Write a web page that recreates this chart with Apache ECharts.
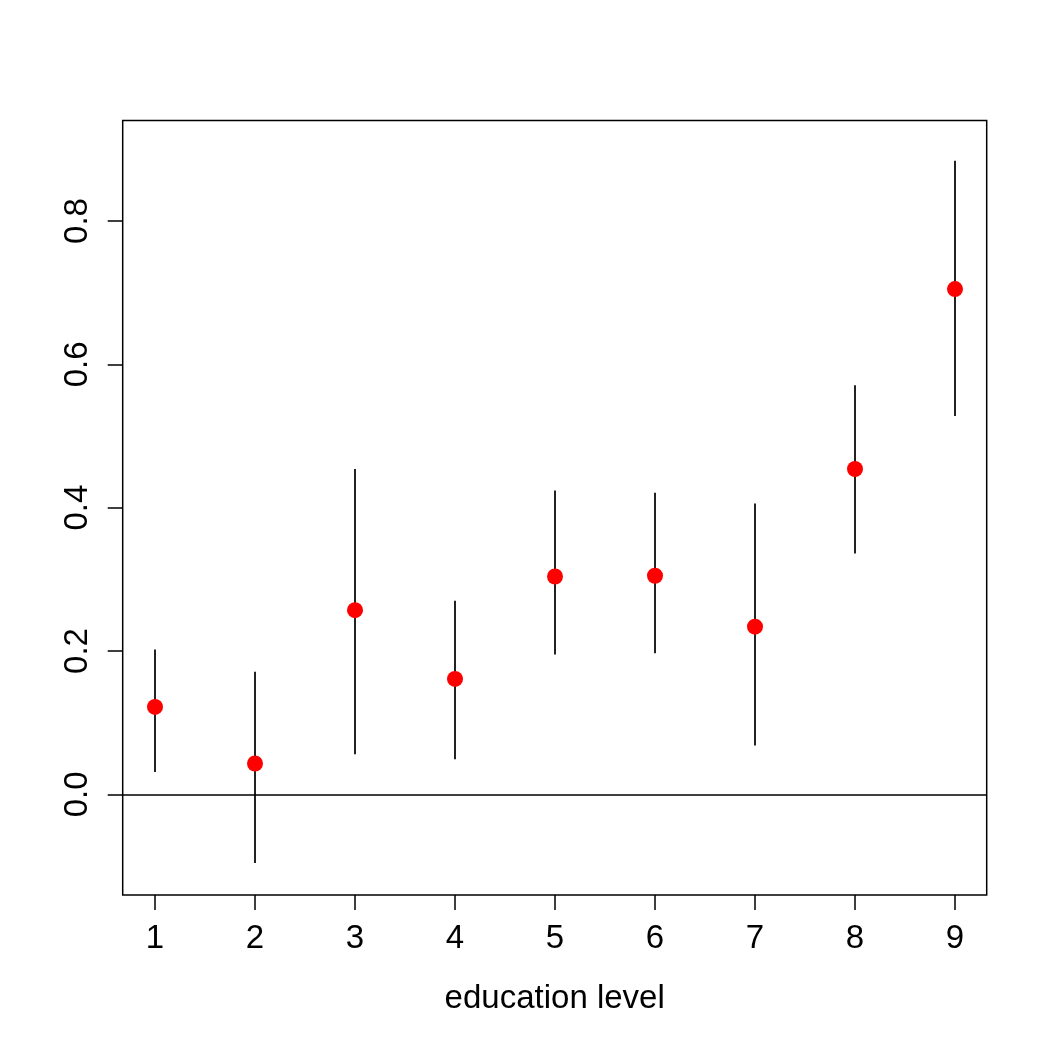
<!DOCTYPE html>
<html>
<head>
<meta charset="utf-8">
<title>education level</title>
<script src="https://cdn.jsdelivr.net/npm/echarts@6/dist/echarts.min.js"></script>
<style>
  html, body { margin: 0; padding: 0; background: #fff; }
  #chart { width: 1048px; height: 1048px; }
</style>
</head>
<body>
<div id="chart"></div>
<script>
// education levels on x
var levels = [1, 2, 3, 4, 5, 6, 7, 8, 9];
// point estimates
var estimate = [0.122, 0.043, 0.257, 0.161, 0.304, 0.305, 0.234, 0.454, 0.705];
// lower / upper ends of the bars
var lower = [0.031, -0.096, 0.056, 0.049, 0.195, 0.197, 0.068, 0.336, 0.528];
var upper = [0.202, 0.171, 0.454, 0.270, 0.424, 0.421, 0.406, 0.571, 0.884];
// tick labels
var xTicks = [1, 2, 3, 4, 5, 6, 7, 8, 9];
var yTicks = [0, 0.2, 0.4, 0.6, 0.8];

var font = "'Liberation Sans', Arial, Helvetica, sans-serif";

var chart = echarts.init(document.getElementById("chart"));

var points = levels.map(function (x, i) { return [x, estimate[i]]; });
var bars = levels.map(function (x, i) { return [x, lower[i], upper[i]]; });

var option = {
  animation: false,
  backgroundColor: "#fff",
  grid: {
    left: 122.7,
    right: 61.3,
    top: 120.5,
    bottom: 153,
    show: true,
    borderColor: "#000",
    borderWidth: 1.5,
    backgroundColor: "transparent"
  },
  xAxis: {
    type: "value",
    min: 0.677,
    max: 9.317,
    name: "education level",
    nameLocation: "middle",
    nameGap: 87,
    nameTextStyle: { fontSize: 33, color: "#000", fontFamily: font },
    // keep ticks on the box edge, not on y = 0
    axisLine: { show: false, onZero: false },
    splitLine: { show: false },
    axisTick: {
      show: true,
      inside: false,
      length: 15,
      customValues: xTicks,
      lineStyle: { color: "#000", width: 1.5 }
    },
    axisLabel: {
      margin: 27,
      fontSize: 33,
      color: "#000",
      fontFamily: font,
      customValues: xTicks
    }
  },
  yAxis: {
    type: "value",
    min: -0.1405,
    max: 0.9403,
    axisLine: { show: false, onZero: false },
    splitLine: { show: false },
    axisTick: {
      show: true,
      inside: false,
      length: 15,
      customValues: yTicks,
      lineStyle: { color: "#000", width: 1.5 }
    },
    axisLabel: {
      margin: 28,
      rotate: 90,
      fontSize: 33,
      color: "#000",
      fontFamily: font,
      customValues: yTicks,
      formatter: function (v) { return v.toFixed(1); }
    }
  },
  series: [
    {
      // vertical bars
      type: "custom",
      data: bars,
      encode: { x: 0, y: [1, 2] },
      z: 2,
      renderItem: function (params, api) {
        var a = api.coord([api.value(0), api.value(1)]);
        var b = api.coord([api.value(0), api.value(2)]);
        return {
          type: "line",
          shape: { x1: a[0], y1: a[1], x2: b[0], y2: b[1] },
          style: { stroke: "#222", lineWidth: 2 }
        };
      }
    },
    {
      type: "scatter",
      data: points,
      symbol: "circle",
      symbolSize: 16,
      z: 3,
      itemStyle: { color: "#ff0000", opacity: 1 },
      markLine: {
        silent: true,
        symbol: ["none", "none"],
        label: { show: false },
        lineStyle: { color: "#000", width: 1.5, type: "solid" },
        data: [{ yAxis: 0 }]
      }
    }
  ]
};

chart.setOption(option);
</script>
</body>
</html>
